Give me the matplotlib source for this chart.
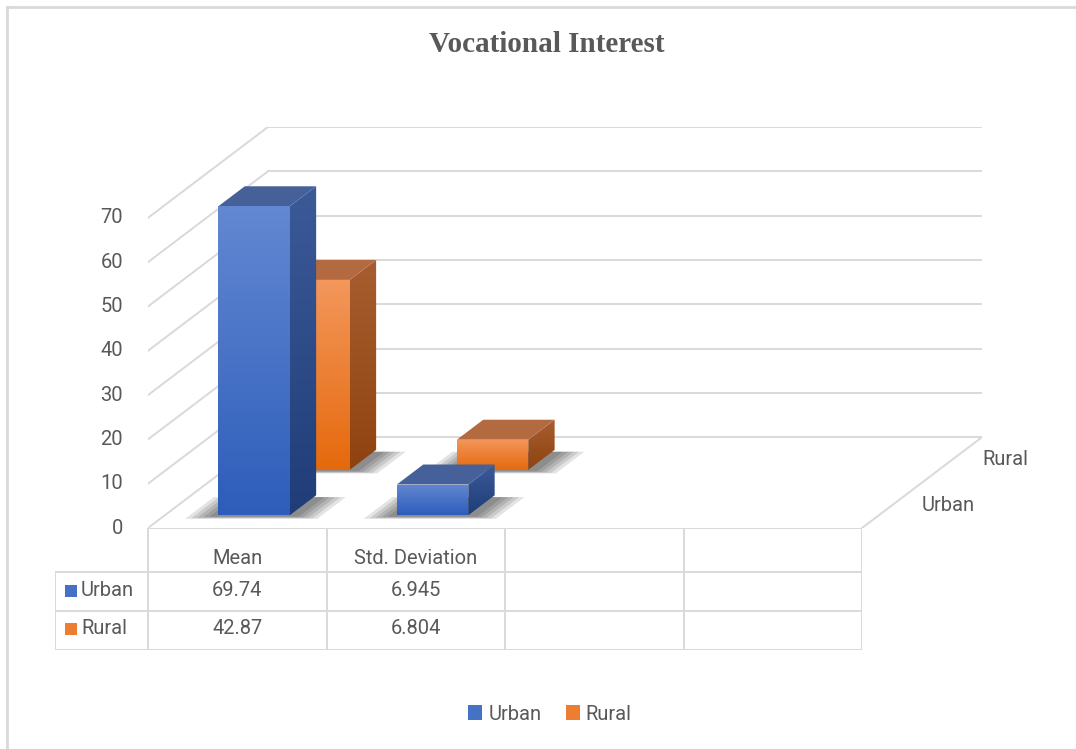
import matplotlib.pyplot as plt
import numpy as np
from matplotlib.patches import Polygon, Rectangle, Patch
from matplotlib.colors import LinearSegmentedColormap
from matplotlib.lines import Line2D

# Data
categories = ['Mean', 'Std. Deviation', '', '']
series = ['Urban', 'Rural']
urban = [69.74, 6.945]
rural = [42.87, 6.804]
urban_txt = ['69.74', '6.945']
rural_txt = ['42.87', '6.804']
yticks = [0, 10, 20, 30, 40, 50, 60, 70]
ymax = 70

# Style
grid_c = '#D9D9D9'
text_c = '#595959'
fs = 14.5
styles = {
    'Urban': dict(front=('#6388D2', '#2D5DBA'), side=('#3B5A98', '#1F3D78'), top='#46609A', legend='#4472C4', zc=0.25),
    'Rural': dict(front=('#F3975C', '#E5690C'), side=('#A85D30', '#8E430F'), top='#B46A40', legend='#ED7D31', zc=0.75),
}

plt.rcParams['font.family'] = ['Roboto', 'DejaVu Sans']

W, H = 1076, 749
KX, KY = 0.672, 20.5   # oblique offset of full depth (category units, value units)
ncat = len(categories)


def P(x, v, z):
    return (x + KX * z, v + KY * z)


fig = plt.figure(figsize=(W / 100, H / 100), dpi=100)
ax = fig.add_axes([148 / W, 1 - 528 / H, 834 / W, 401 / H])
ax.axis('off')

# walls gridlines
for v in yticks:
    a, b = P(0, v, 1), P(ncat, v, 1)
    ax.plot([a[0], b[0]], [a[1], b[1]], color=grid_c, lw=1.4, zorder=1)
    a, b = P(0, v, 0), P(0, v, 1)
    ax.plot([a[0], b[0]], [a[1], b[1]], color=grid_c, lw=1.4, zorder=1)
    ax.annotate(str(v), xy=(0, v), xytext=(-25, 0), textcoords='offset pixels',
                ha='right', va='center', fontsize=fs, color=text_c)
# floor right edge / depth axis
a, b = P(ncat, 0, 0), P(ncat, 0, 1)
ax.plot([a[0], b[0]], [a[1], b[1]], color=grid_c, lw=1.4, zorder=1)
for s in series:
    z = styles[s]['zc']
    ax.annotate(s, xy=P(ncat, 0, z), xytext=(30, 0), textcoords='offset pixels',
                ha='left', va='center', fontsize=fs, color=text_c)


def grad_face(verts, c_top, c_bot, zorder):
    poly = Polygon(verts, closed=True, facecolor='none', edgecolor='none', zorder=zorder)
    ax.add_patch(poly)
    xs = [p[0] for p in verts]
    ys = [p[1] for p in verts]
    cmap = LinearSegmentedColormap.from_list('g', [c_bot, c_top])
    im = ax.imshow(np.linspace(0, 1, 256).reshape(-1, 1),
                   extent=[min(xs), max(xs), min(ys), max(ys)],
                   origin='lower', cmap=cmap, aspect='auto', zorder=zorder,
                   interpolation='bilinear')
    im.set_clip_path(poly)


half_w, half_d = 0.2, 0.11
zo = 3
for s, vals in [('Rural', rural), ('Urban', urban)]:
    st = styles[s]
    for i, v in enumerate(vals):
        x0, x1 = i + 0.5 - half_w, i + 0.5 + half_w
        z0, z1 = st['zc'] - half_d, st['zc'] + half_d
        # soft shadow on the floor
        for k in range(5):
            e = 0.03 * k
            sh = [P(x0 - 0.04 - e, 0, z0 - 0.015 - e / 5), P(x1 + 0.06 + e, 0, z0 - 0.015 - e / 5),
                  P(x1 + 0.06 + e, 0, z1 - 0.02), P(x0 - 0.04 - e, 0, z1 - 0.02)]
            ax.add_patch(Polygon(sh, closed=True, facecolor='black', alpha=0.11,
                                 edgecolor='none', zorder=zo))
        zo += 1
        front = [P(x0, 0, z0), P(x1, 0, z0), P(x1, v, z0), P(x0, v, z0)]
        side = [P(x1, 0, z0), P(x1, 0, z1), P(x1, v, z1), P(x1, v, z0)]
        top = [P(x0, v, z0), P(x1, v, z0), P(x1, v, z1), P(x0, v, z1)]
        grad_face(side, st['side'][0], st['side'][1], zo)
        ax.add_patch(Polygon(top, closed=True, facecolor=st['top'], edgecolor='none', zorder=zo))
        grad_face(front, st['front'][0], st['front'][1], zo + 1)
        zo += 2

ax.set_xlim(0, ncat + KX)
ax.set_ylim(0, ymax + KY)

# data table
xl = -93 / 178.5
tab = fig.add_axes([55 / W, 1 - 650 / H, (862 - 55) / W, 122 / H])
tab.axis('off')
tab.set_xlim(xl, ncat)
tab.set_ylim(122, 0)
tab.plot([0, ncat], [0, 0], color=grid_c, lw=1.4)
for y in [44, 83, 122]:
    tab.plot([xl, ncat], [y, y], color=grid_c, lw=1.4)
tab.plot([xl, xl], [44, 122], color=grid_c, lw=1.4)
for i in range(ncat + 1):
    tab.plot([i, i], [0, 122], color=grid_c, lw=1.4)
for i, c in enumerate(categories):
    tab.text(i + 0.5, 31, c, ha='center', va='center', fontsize=fs, color=text_c)
for i, t in enumerate(urban_txt):
    tab.text(i + 0.5, 63, t, ha='center', va='center', fontsize=fs, color=text_c)
for i, t in enumerate(rural_txt):
    tab.text(i + 0.5, 101, t, ha='center', va='center', fontsize=fs, color=text_c)
for s, yc in [('Urban', 63), ('Rural', 101)]:
    tab.add_patch(Rectangle(((65 - 148) / 178.5, yc - 6), 12 / 178.5, 12,
                            facecolor=styles[s]['legend'], edgecolor='none'))
    tab.text((81 - 148) / 178.5, yc, s, ha='left', va='center', fontsize=fs, color=text_c)

# title
fig.text(547 / W, 1 - 45 / H, 'Vocational Interest', ha='center', va='center',
         fontfamily='Liberation Serif', fontweight='bold', fontsize=21, color=text_c)

# legend
handles = [Patch(facecolor=styles[s]['legend']) for s in series]
fig.legend(handles, series, loc='center', bbox_to_anchor=(550 / W, 1 - 714 / H), ncol=2,
           frameon=False, fontsize=fs, handlelength=0.7, handleheight=0.7,
           handletextpad=0.3, columnspacing=1.2, labelcolor=text_c)

# chart border (left and top visible)
fig.add_artist(Line2D([7 / W, 7 / W], [0, 1 - 7 / H], color=grid_c, lw=2))
fig.add_artist(Line2D([7 / W, 1], [1 - 7 / H, 1 - 7 / H], color=grid_c, lw=2))

fig.savefig('out.png', dpi=100)
